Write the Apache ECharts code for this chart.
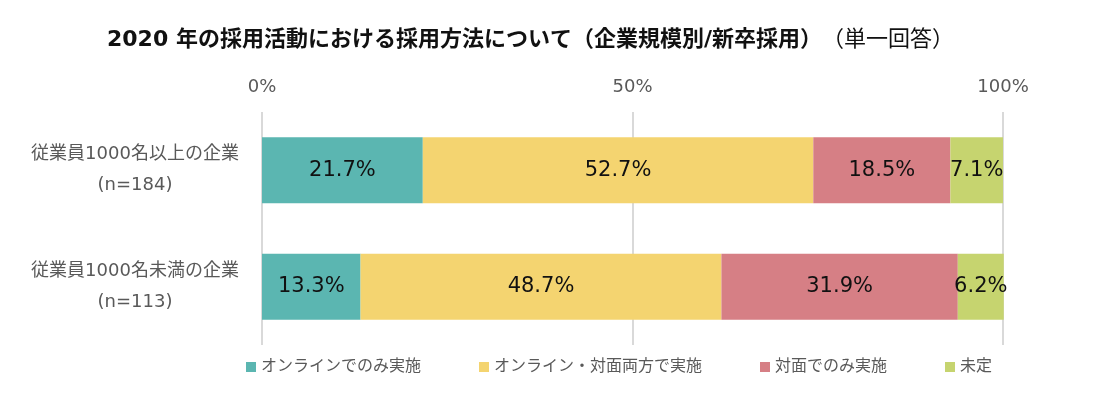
<!DOCTYPE html>
<html>
<head>
<meta charset="utf-8">
<script src="https://cdn.jsdelivr.net/npm/echarts@6/dist/echarts.min.js"></script>
<style>
  html, body { margin: 0; padding: 0; background: #fff; }
  #chart { width: 1103px; height: 397px; }
</style>
</head>
<body>
<div id="chart"></div>
<script>
const categories = ['従業員1000名以上の企業\n(n=184)', '従業員1000名未満の企業\n(n=113)'];
const seriesNames = ['オンラインでのみ実施', 'オンライン・対面両方で実施', '対面でのみ実施', '未定'];
const onlineOnly = [21.7, 13.3];
const both = [52.7, 48.7];
const faceOnly = [18.5, 31.9];
const undecided = [7.1, 6.2];
const colors = ['#5bb6b1', '#f4d470', '#d67f85', '#c6d46f'];

const font = '"DejaVu Sans", "Noto Sans CJK JP", sans-serif';
const chart = echarts.init(document.getElementById('chart'));

const values = [onlineOnly, both, faceOnly, undecided];
const series = seriesNames.map((name, i) => ({
  name: name,
  type: 'bar',
  stack: 'total',
  barWidth: 66,
  clip: false,
  data: values[i],
  itemStyle: { color: colors[i] },
  label: {
    show: true,
    position: 'inside',
    color: '#111',
    fontSize: 21,
    fontFamily: font,
    formatter: p => p.value.toFixed(1) + '%',
  },
}));

chart.setOption({
  animation: false,
  textStyle: { fontFamily: font },
  title: {
    text: '{b|2020 年の採用活動における採用方法について（企業規模別/新卒採用）}{n|（単一回答）}',
    left: 102,
    top: 24,
    textStyle: {
      rich: {
        b: { fontSize: 22, fontWeight: 'bold', color: '#111', fontFamily: font },
        n: { fontSize: 22, fontWeight: 'normal', color: '#111', fontFamily: font },
      },
    },
  },
  legend: {
    bottom: 17,
    left: 241,
    itemWidth: 10,
    itemHeight: 10,
    itemGap: 58,
    icon: 'rect',
    textStyle: { fontSize: 16, color: '#595959', fontFamily: font },
    data: seriesNames,
  },
  grid: { left: 262, right: 100, top: 112, bottom: 52 },
  xAxis: {
    type: 'value',
    position: 'top',
    min: 0,
    max: 100,
    interval: 50,
    axisLine: { show: false },
    axisTick: { show: false },
    axisLabel: {
      color: '#595959',
      fontSize: 18,
      fontFamily: font,
      margin: 16,
      formatter: '{value}%',
    },
    splitLine: { lineStyle: { color: '#d9d9d9', width: 2 } },
  },
  yAxis: {
    type: 'category',
    inverse: true,
    data: categories,
    axisLine: { show: false },
    axisTick: { show: false },
    axisLabel: {
      color: '#595959',
      fontSize: 18,
      fontFamily: font,
      lineHeight: 31,
      align: 'center',
      margin: 127,
    },
  },
  series: series,
});
</script>
</body>
</html>
